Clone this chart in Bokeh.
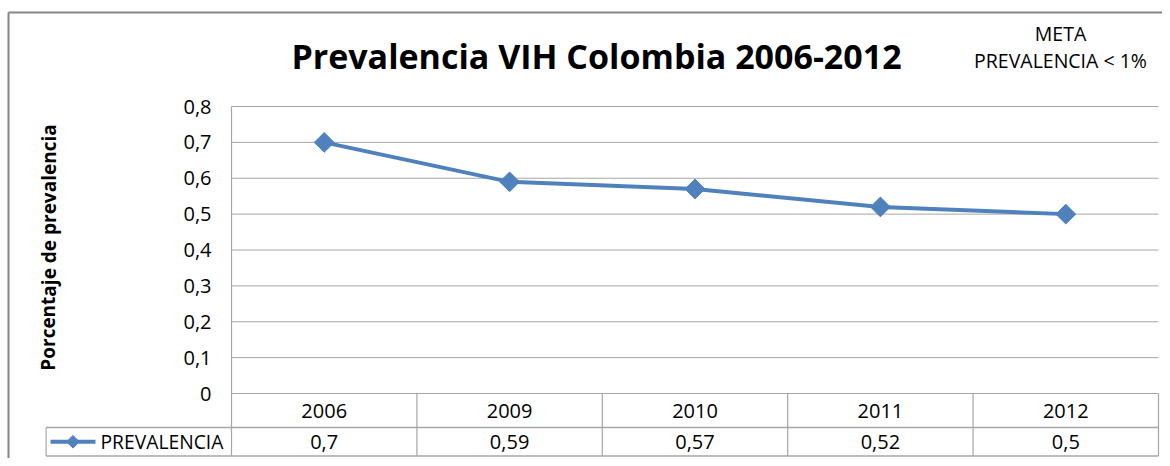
from bokeh.plotting import figure
from bokeh.models import Range1d, ColumnDataSource
from bokeh.core.properties import value
from bokeh.embed import file_html
from bokeh.resources import INLINE

# ---------------- data ----------------
years = ["2006", "2009", "2010", "2011", "2012"]
prevalence = [0.7, 0.59, 0.57, 0.52, 0.5]
value_labels = ["0,7", "0,59", "0,57", "0,52", "0,5"]
y_ticks = [0.0, 0.1, 0.2, 0.3, 0.4, 0.5, 0.6, 0.7, 0.8]
y_tick_labels = ["0", "0,1", "0,2", "0,3", "0,4", "0,5", "0,6", "0,7", "0,8"]
series_name = "PREVALENCIA"
chart_title = "Prevalencia VIH Colombia 2006-2012"
goal_lines = ["META", "PREVALENCIA < 1%"]
y_label = "Porcentaje de prevalencia"

# ---------------- layout (picture pixels -> data units) ----------------
W, H = 1162, 458
PLOT_LEFT = 231.0      # x of category area start
COL_W = 185.4          # px per category column
ZERO_Y = 393.0         # y of value 0
PX_PER_UNIT = 358.75   # px per 1.0 of value

def px_x(px):
    return (px - PLOT_LEFT) / COL_W

def px_y(py):
    return (ZERO_Y - py) / PX_PER_UNIT

x0, x1 = px_x(0), px_x(W)
y0, y1 = px_y(H), px_y(0)

FONT = "Open Sans"
GRID = "#A6A6A6"
BLUE = "#4F81BD"

p = figure(width=W, height=H, output_backend="svg", toolbar_location=None,
           x_range=Range1d(x0, x1), y_range=Range1d(y0, y1),
           min_border=0, x_axis_location=None, y_axis_location=None)
p.outline_line_color = None
p.xgrid.visible = False
p.ygrid.visible = False
p.background_fill_color = "white"
p.border_fill_color = "white"

n = len(years)
centers = [i + 0.5 for i in range(n)]
y_top = max(y_ticks)
row1 = px_y(427)
row2 = px_y(455.5)

# outer chart border
p.segment(x0=[px_x(8)], y0=[px_y(12)], x1=[px_x(8)], y1=[y0], line_color="#868686", line_width=2)
p.segment(x0=[px_x(8)], y0=[px_y(12)], x1=[x1], y1=[px_y(12)], line_color="#868686", line_width=2)

# horizontal gridlines
p.segment(x0=[0] * len(y_ticks), y0=y_ticks, x1=[n] * len(y_ticks), y1=y_ticks,
          line_color=GRID, line_width=1)
# left axis line through table
p.segment(x0=[0], y0=[y_top], x1=[0], y1=[row2], line_color=GRID, line_width=1.2)

# table lines
p.segment(x0=[-1, -1], y0=[row1, row2], x1=[n, n], y1=[row1, row2], line_color=GRID, line_width=1.5)
p.segment(x0=list(range(1, n + 1)), y0=[0] * n, x1=list(range(1, n + 1)), y1=[row2] * n,
          line_color=GRID, line_width=1.2)
p.segment(x0=[-1], y0=[row1], x1=[-1], y1=[row2], line_color=GRID, line_width=1.2)

# y tick labels
p.text(x=[px_x(211)] * len(y_ticks), y=y_ticks, text=y_tick_labels,
       text_font=value(FONT), text_font_size="20px", text_align="right",
       text_baseline="middle", text_color="#000000")

# data line + markers
src = ColumnDataSource(dict(x=centers, y=prevalence))
p.line("x", "y", source=src, line_color=BLUE, line_width=4)
p.scatter("x", "y", source=src, marker="square", angle=0.785398, size=14,
          fill_color=BLUE, line_color=BLUE)

# table texts
p.text(x=centers, y=[(0 + row1) / 2] * n, text=years, text_font=value(FONT),
       text_font_size="20px", text_align="center", text_baseline="middle", text_color="#000000")
p.text(x=centers, y=[(row1 + row2) / 2] * n, text=value_labels, text_font=value(FONT),
       text_font_size="20px", text_align="center", text_baseline="middle", text_color="#000000")

# legend key in table
ly = (row1 + row2) / 2
p.segment(x0=[px_x(50)], y0=[ly], x1=[px_x(95)], y1=[ly], line_color=BLUE, line_width=4)
p.scatter(x=[px_x(72.5)], y=[ly], marker="square", angle=0.785398, size=9,
          fill_color=BLUE, line_color=BLUE)
p.text(x=[px_x(100)], y=[ly], text=[series_name], text_font=value(FONT),
       text_font_size="19.3px", text_align="left", text_baseline="middle", text_color="#000000")

# title
p.text(x=[px_x(596)], y=[px_y(55)], text=[chart_title], text_font=value(FONT),
       text_font_size="34px", text_font_style="bold", text_align="center",
       text_baseline="middle", text_color="#000000")

# goal note
p.text(x=[px_x(1060)] * len(goal_lines), y=[px_y(33), px_y(60)], text=goal_lines,
       text_font=value(FONT), text_font_size="19.5px", text_align="center",
       text_baseline="middle", text_color="#000000")

# y label
p.text(x=[px_x(48)], y=[px_y(247)], text=[y_label], text_font=value(FONT),
       text_font_size="19px", text_font_style="bold", text_align="center",
       text_baseline="middle", angle=1.5707963, text_color="#000000")

open("out.html", "w").write(file_html(p, INLINE))
